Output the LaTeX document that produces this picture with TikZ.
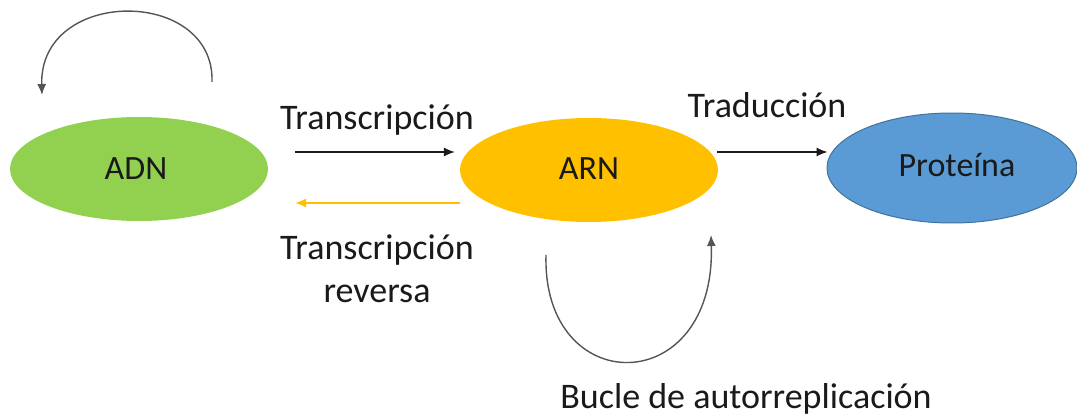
\documentclass[tikz,border=0pt]{standalone}
\usepackage{fontspec}
\setmainfont{Carlito}
\usetikzlibrary{shapes.geometric,arrows.meta}
\definecolor{dnagreen}{HTML}{92D050}
\definecolor{rnaorange}{HTML}{FFC000}
\definecolor{protblue}{HTML}{5B9BD5}
\definecolor{protedge}{HTML}{41719C}
\definecolor{loopgray}{HTML}{555555}
\definecolor{ink}{HTML}{1A1A1A}
\tikzset{
  molecule/.style={ellipse, inner sep=0pt, minimum width=258pt, minimum height=104pt,
    font=\fontsize{34}{40}\selectfont, text=ink},
  flow/.style={line width=1.1pt, draw=ink, -{Latex[length=11pt,width=9pt]}},
  revflow/.style={line width=1.1pt, draw=rnaorange, -{Latex[length=11pt,width=9pt]}},
  loop/.style={line width=1.4pt, draw=loopgray, -{Latex[length=11pt,width=9pt]}},
  molname/.style={font=\fontsize{34}{40}\selectfont, text=ink, inner sep=0pt, anchor=base},
  caption/.style={font=\fontsize{36}{42}\selectfont, text=ink, inner sep=0pt, anchor=base},
}
\begin{document}
\begin{tikzpicture}[x=1pt,y=1pt]
\useasboundingbox (0,0) rectangle (1077,-417);

% the three molecules
\node[molecule, fill=dnagreen] (adn) at (139,-169) {};
\node[molecule, fill=rnaorange] (arn) at (589,-170) {};
\node[molecule, fill=protblue, draw=protedge, line width=1pt, minimum width=250pt, minimum height=110pt] (prot) at (952,-168) {};

\node[molname] (adnlbl) at (136,-180) {ADN};
\node[molname] (arnlbl) at (589,-180) {ARN};
\node[molname] (protlbl) at (957,-177) {Proteína};

% information flow between the molecules
\draw[flow] ([xshift=27pt,yshift=17pt]adn.east) -- ([xshift=-5pt,yshift=18pt]arn.west);
\draw[revflow] ([yshift=-33pt]arn.west) -- ([xshift=27pt,yshift=-34pt]adn.east);
\draw[flow] ([xshift=-1pt,yshift=18pt]arn.east) -- ([xshift=1pt,yshift=16pt]prot.west);

% self loops
\draw[loop] ([xshift=73pt,yshift=87pt]adn.center)
  .. controls ([xshift=76pt,yshift=182pt]adn.center) and ([xshift=-100pt,yshift=182pt]adn.center)
  .. ([xshift=-97pt,yshift=74pt]adn.center);
\draw[loop] ([xshift=-43pt,yshift=-85pt]arn.center)
  .. controls ([xshift=-47pt,yshift=-230pt]arn.center) and ([xshift=127pt,yshift=-230pt]arn.center)
  .. ([xshift=122pt,yshift=-65pt]arn.center);

% labels
\node[caption] (ltrans) at (377,-130) {Transcripción};
\node[caption] (lrev1) at (377,-259) {Transcripción};
\node[caption] (lrev2) at (377,-302) {reversa};
\node[caption] (ltrad) at (767,-118) {Traducción};
\node[caption] (lbucle) at (746,-408) {Bucle de autorreplicación};
\end{tikzpicture}
\end{document}
